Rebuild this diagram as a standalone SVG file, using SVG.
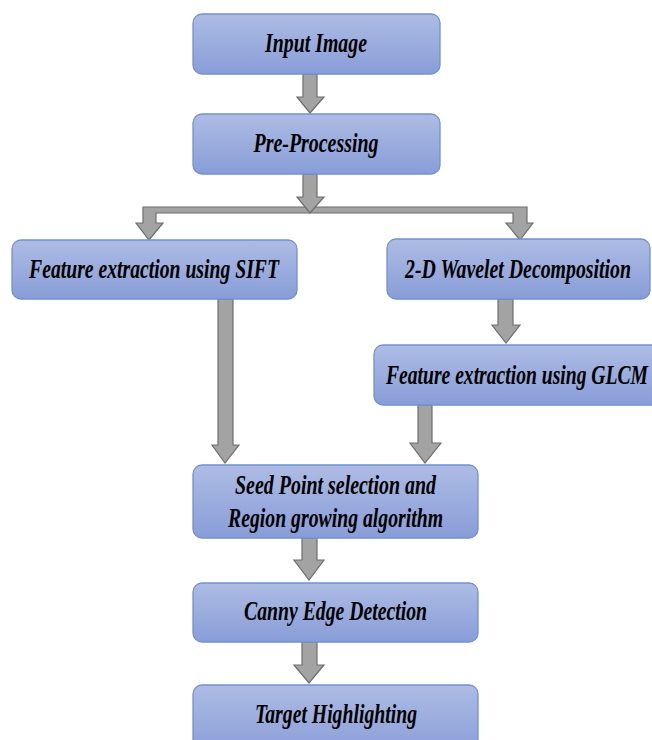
<svg xmlns="http://www.w3.org/2000/svg" width="652" height="740" viewBox="0 0 652 740">
<defs>
<linearGradient id="boxg" x1="0" y1="0" x2="0" y2="1">
<stop offset="0" stop-color="#aebce4"/>
<stop offset="1" stop-color="#889dd8"/>
</linearGradient>
<style>
.box{fill:url(#boxg);stroke:#7191d2;stroke-width:1.3}
.lbl{font-family:"Liberation Serif","Times New Roman",serif;font-weight:bold;font-style:italic;font-size:27px;fill:#000;text-anchor:middle}
.arr{fill:#a3a3a3;stroke:#6e6e6e;stroke-width:1.2;stroke-linejoin:miter}
</style>
</defs>
<rect width="652" height="740" fill="#fff"/>
<g id="connectors">
<polygon class="arr" points="303,74 317,74 317,97 324,97 310,113 297,97 303,97"/>
<polygon class="arr" points="143,207 527,207 527,223 533,223 520,240 506,223 513,223 513,213 156,213 156,223 163,223 149,240 136,223 143,223"/>
<polygon class="arr" points="303,174 317,174 317,197 324,197 310,213 297,197 303,197"/>
<polygon class="arr" points="498,299 513,299 513,325 520,325 506,343 492,325 498,325"/>
<polygon class="arr" points="218,299 233,299 233,445 239,445 225,463 212,445 218,445"/>
<polygon class="arr" points="418,405 432,405 432,443 441,443 425,463 410,443 418,443"/>
<polygon class="arr" points="302,538 317,538 317,560 324,560 309,580 294,560 302,560"/>
<polygon class="arr" points="302,642 317,642 317,665 324,665 309,683 294,665 302,665"/>
</g>
<g id="input">
<rect class="box" x="193" y="14" width="247" height="60" rx="9"/>
<text class="lbl" transform="translate(316,52) scale(0.735,1)" textLength="138.8" lengthAdjust="spacingAndGlyphs">Input Image</text>
</g>
<g id="preprocessing">
<rect class="box" x="193" y="114" width="247" height="60" rx="9"/>
<text class="lbl" transform="translate(316,152) scale(0.735,1)" textLength="170.1" lengthAdjust="spacingAndGlyphs">Pre-Processing</text>
</g>
<g id="sift">
<rect class="box" x="12" y="240" width="285" height="59" rx="9"/>
<text class="lbl" transform="translate(154,278) scale(0.735,1)" textLength="340.1" lengthAdjust="spacingAndGlyphs">Feature extraction using SIFT</text>
</g>
<g id="wavelet">
<rect class="box" x="387" y="239" width="263" height="60" rx="9"/>
<text class="lbl" transform="translate(518,278) scale(0.735,1)" textLength="307.5" lengthAdjust="spacingAndGlyphs">2-D Wavelet Decomposition</text>
</g>
<g id="glcm">
<rect class="box" x="374" y="345" width="290" height="60" rx="9"/>
<text class="lbl" transform="translate(517,384) scale(0.735,1)" textLength="356.5" lengthAdjust="spacingAndGlyphs">Feature extraction using GLCM</text>
</g>
<g id="seed">
<rect class="box" x="193" y="465" width="285" height="73" rx="9"/>
<text class="lbl" transform="translate(335.5,494) scale(0.735,1)" textLength="273.5" lengthAdjust="spacingAndGlyphs">Seed Point selection and</text>
<text class="lbl" transform="translate(335.5,527) scale(0.735,1)" textLength="292.5" lengthAdjust="spacingAndGlyphs">Region growing algorithm</text>
</g>
<g id="canny">
<rect class="box" x="193" y="583" width="285" height="59" rx="9"/>
<text class="lbl" transform="translate(335.5,620) scale(0.735,1)" textLength="249" lengthAdjust="spacingAndGlyphs">Canny Edge Detection</text>
</g>
<g id="target">
<rect class="box" x="193" y="685" width="285" height="70" rx="9"/>
<text class="lbl" transform="translate(336,723) scale(0.735,1)" textLength="220.4" lengthAdjust="spacingAndGlyphs">Target Highlighting</text>
</g>
</svg>
